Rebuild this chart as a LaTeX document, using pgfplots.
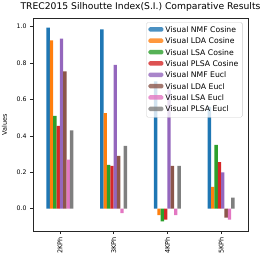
\documentclass[border=0pt]{standalone}
\usepackage{fontspec}
\setmainfont{DejaVu Sans}
\usepackage{pgfplots}
\pgfplotsset{compat=1.18}
\usetikzlibrary{calc}
\definecolor{c0}{HTML}{1F77B4}
\definecolor{c1}{HTML}{FF7F0E}
\definecolor{c2}{HTML}{2CA02C}
\definecolor{c3}{HTML}{D62728}
\definecolor{c4}{HTML}{9467BD}
\definecolor{c5}{HTML}{8C564B}
\definecolor{c6}{HTML}{E377C2}
\definecolor{c7}{HTML}{7F7F7F}
\begin{document}
\begin{tikzpicture}
\begin{axis}[
  scale only axis, width=215pt, height=213pt,
  ybar=0pt, bar width=3.36pt,
  xmin=-0.5, xmax=3.5, ymin=-0.123, ymax=1.048,
  xtick={0,1,2,3}, xticklabels={2KPh,3KPh,4KPh,5KPh},
  x tick label style={rotate=90, anchor=east, font=\fontsize{6.5}{7}\selectfont},
  ytick={0,0.2,0.4,0.6,0.8,1.0},
  y tick label style={font=\fontsize{6.2}{7}\selectfont},
  /pgf/number format/.cd, fixed, fixed zerofill, precision=1, assume math mode=true,
  /pgfplots/.cd,
  tick align=outside, xtick pos=left, ytick pos=left,
  major tick length=3pt,
  tick style={black!85, line width=0.5pt},
  axis line style={black!85, line width=0.6pt},
  ylabel={Values}, ylabel style={font=\fontsize{6.5}{7}\selectfont, at={(axis description cs:-0.105,0.5)}},
  title={TREC2015 Silhoutte Index(S.I.) Comparative Results},
  title style={font=\fontsize{9.2}{10}\selectfont, yshift=-3pt},
  legend style={at={(0.975,0.98)}, anchor=north east, font=\fontsize{7.7}{9}\selectfont,
    draw=black!20, rounded corners=1.5pt, fill=white, fill opacity=0.8, text opacity=1,
    row sep=0pt, inner sep=2pt},
  legend cell align=left,
  legend image code/.code={\fill[#1] (0pt,-1.5pt) rectangle (15pt,3pt);},
  every axis plot/.append style={draw=none},
]
\addplot[fill=c0] coordinates {(0,0.995) (1,0.985) (2,0.700) (3,0.560)};
\addplot[fill=c1] coordinates {(0,0.925) (1,0.525) (2,-0.035) (3,0.120)};
\addplot[fill=c2] coordinates {(0,0.510) (1,0.240) (2,-0.070) (3,0.350)};
\addplot[fill=c3] coordinates {(0,0.455) (1,0.235) (2,-0.060) (3,0.255)};
\addplot[fill=c4] coordinates {(0,0.935) (1,0.790) (2,0.655) (3,0.200)};
\addplot[fill=c5] coordinates {(0,0.755) (1,0.290) (2,0.235) (3,-0.050)};
\addplot[fill=c6] coordinates {(0,0.270) (1,-0.025) (2,-0.035) (3,-0.060)};
\addplot[fill=c7] coordinates {(0,0.430) (1,0.345) (2,0.235) (3,0.060)};
\legend{Visual NMF Cosine,Visual LDA Cosine,Visual LSA Cosine,Visual PLSA Cosine,Visual NMF Eucl,Visual LDA Eucl,Visual LSA Eucl,Visual PLSA Eucl}
\end{axis}
\pgfresetboundingbox
\path[use as bounding box] ($(current axis.south west)+(-33pt,-29pt)$) rectangle ($(current axis.north east)+(15pt,18pt)$);
\end{tikzpicture}
\end{document}
